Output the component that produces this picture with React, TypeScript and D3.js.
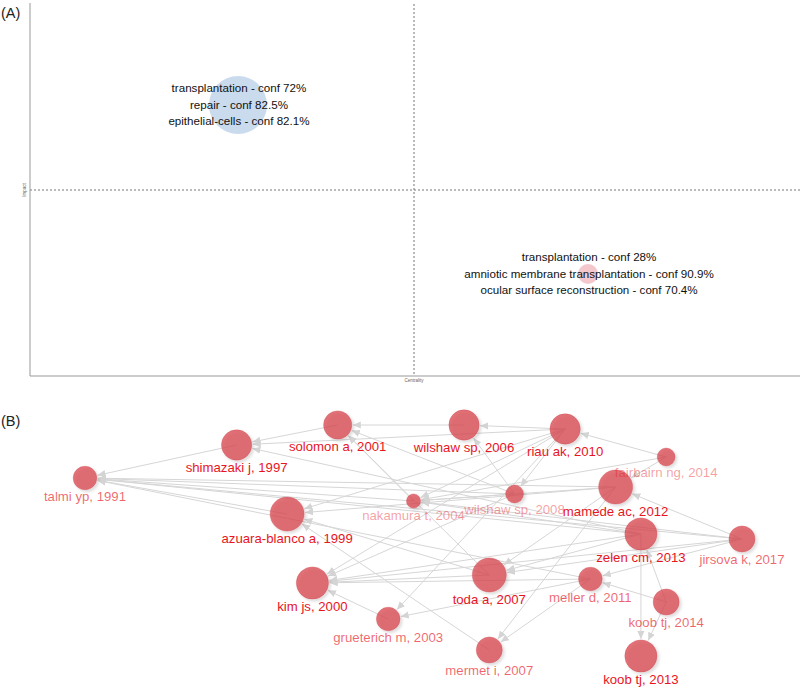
import React from "react";
import * as d3 from "d3";

// ---------- (A) thematic map data ----------
const clusterCentrality = [0.2708, 0.7266];
const clusterImpact = [0.7285, 0.2742];
const clusterFreq = [84, 10];
const clusterColors = ["#c6d9ec", "#f3c4c9"];
const clusterLabels = [
  ["transplantation - conf 72%", "repair - conf 82.5%", "epithelial-cells - conf 82.1%"],
  ["transplantation - conf 28%", "amniotic membrane transplantation - conf 90.9%", "ocular surface reconstruction - conf 70.4%"],
];

// ---------- (B) historiograph data ----------
const nodeNames = [
  "talmi yp, 1991", "shimazaki j, 1997", "azuara-blanco a, 1999", "kim js, 2000", "solomon a, 2001",
  "grueterich m, 2003", "nakamura t, 2004", "wilshaw sp, 2006", "toda a, 2007", "mermet i, 2007",
  "wilshaw sp, 2008", "riau ak, 2010", "meller d, 2011", "mamede ac, 2012", "zelen cm, 2013",
  "koob tj, 2013", "fairbairn ng, 2014", "koob tj, 2014", "jirsova k, 2017",
];
const nodeYears = [1991, 1997, 1999, 2000, 2001, 2003, 2004, 2006, 2007, 2007, 2008, 2010, 2011, 2012, 2013, 2013, 2014, 2014, 2017];
const nodeLayoutY = [4.78, 4.45, 5.14, 5.83, 4.25, 6.19, 5.01, 4.25, 5.75, 6.5, 4.94, 4.29, 5.79, 4.87, 5.34, 6.56, 4.57, 6.02, 5.39];
const nodeLCS = [14, 23, 29, 26, 20, 14, 5, 23, 29, 17, 8, 23, 14, 29, 26, 26, 8, 17, 17];
const edgeList: [number, number][] = [
  [1, 0], [4, 1], [6, 0], [6, 4], [7, 4], [11, 7], [11, 1], [11, 10], [11, 6], [11, 5],
  [16, 11], [16, 6], [16, 13], [13, 0], [11, 2], [18, 13], [18, 0], [18, 8], [18, 12], [18, 3],
  [14, 8], [14, 3], [14, 15], [17, 15], [17, 12], [17, 14], [12, 3], [12, 5], [12, 9], [8, 3],
  [8, 4], [9, 2], [5, 3], [10, 3], [10, 7], [13, 8], [13, 9], [14, 0], [14, 6], [14, 1],
  [10, 4], [10, 6], [10, 0], [13, 6], [8, 2], [2, 0], [11, 3], [12, 0], [18, 6], [13, 2],
];

const FONT = "'Liberation Sans', Arial, Helvetica, sans-serif";

export default function App() {
  // Panel A scales
  const ax = d3.scaleLinear().domain([0, 1]).range([30, 798]);
  const ay = d3.scaleLinear().domain([0, 1]).range([376, 4]);
  const ar = d3.scaleSqrt().domain([0, 84]).range([0, 29]);

  // Panel B scales
  const bx = d3.scaleLinear().domain([1991, 2017]).range([85, 742]);
  const by = d3.scaleLinear().domain([4, 7]).range([400, 700]);
  const br = d3.scaleSqrt().domain([0, 29]).range([0, 17]);
  const labelOpacity = d3.scaleThreshold<number, number>().domain([11, 20]).range([0.42, 0.66, 1]);

  const nodes = nodeNames.map((name, i) => ({
    name,
    x: bx(nodeYears[i]),
    y: by(nodeLayoutY[i]),
    r: br(nodeLCS[i]),
    lo: labelOpacity(nodeLCS[i]),
  }));

  const edges = edgeList.map(([s, t]) => {
    const a = nodes[s];
    const b = nodes[t];
    const dx = b.x - a.x;
    const dy = b.y - a.y;
    const len = Math.sqrt(dx * dx + dy * dy);
    const ux = dx / len;
    const uy = dy / len;
    return {
      x1: a.x,
      y1: a.y,
      x2: b.x - ux * (b.r + 1),
      y2: b.y - uy * (b.r + 1),
    };
  });

  return (
    <div style={{ position: "absolute", left: 0, top: 0, width: 800, height: 687 }}>
      <svg width={800} height={687} style={{ display: "block", background: "#fff" }} fontFamily={FONT}>
        <defs>
          <marker id="arr" viewBox="0 -5 10 10" refX={10} refY={0} markerWidth={8} markerHeight={8} markerUnits="userSpaceOnUse" orient="auto">
            <path d="M0,-4.5L10,0L0,4.5Z" fill="#d4d4d4" />
          </marker>
          <filter id="shadow" x="-50%" y="-50%" width="200%" height="200%">
            <feDropShadow dx={2} dy={2} stdDeviation={1.6} floodColor="#000" floodOpacity={0.18} />
          </filter>
        </defs>

        {/* ---------- Panel A ---------- */}
        <text x={1} y={18} fontSize={14.5} fill="#222">(A)</text>
        <line x1={ax(0.5)} x2={ax(0.5)} y1={ay(1)} y2={ay(0)} stroke="#777" strokeWidth={1} strokeDasharray="2,2" />
        <line x1={ax(0)} x2={800} y1={ay(0.5)} y2={ay(0.5)} stroke="#777" strokeWidth={1} strokeDasharray="2,2" />
        <line x1={ax(0)} x2={ax(0)} y1={3} y2={ay(0)} stroke="#999" strokeWidth={1} />
        <line x1={ax(0)} x2={800} y1={ay(0)} y2={ay(0)} stroke="#999" strokeWidth={1} />
        <text x={0} y={0} fontSize={4.5} fill="#666" textAnchor="middle" transform={`translate(25.5,${ay(0.5)}) rotate(-90)`}>Impact</text>
        <text x={ax(0.5)} y={382} fontSize={4.5} fill="#666" textAnchor="middle">Centrality</text>

        {clusterCentrality.map((c, i) => {
          const cx = ax(c);
          const cy = ay(clusterImpact[i]);
          return (
            <g key={"c" + i}>
              <circle cx={cx} cy={cy} r={ar(clusterFreq[i])} fill={clusterColors[i]} opacity={0.95} />
              {clusterLabels[i].map((t, j) => (
                <text key={j} x={cx + 1} y={cy + 4 + (j - 1) * 16.5} fontSize={11.6} fill="#111" textAnchor="middle">
                  {t}
                </text>
              ))}
            </g>
          );
        })}

        {/* ---------- Panel B ---------- */}
        <text x={1} y={426} fontSize={14.5} fill="#222">(B)</text>
        <g>
          {edges.map((e, i) => (
            <line key={"e" + i} x1={e.x1} y1={e.y1} x2={e.x2} y2={e.y2} stroke="#d6d6d6" strokeWidth={1} markerEnd="url(#arr)" />
          ))}
        </g>
        <g>
          {nodes.map((n, i) => (
            <circle key={"n" + i} cx={n.x} cy={n.y} r={n.r} fill="#d8474f" fillOpacity={0.76} stroke="#d04850" strokeOpacity={0.35} strokeWidth={1} filter="url(#shadow)" />
          ))}
        </g>
        <g>
          {nodes.map((n, i) => (
            <text key={"l" + i} x={n.x} y={n.y + n.r + 11.5} fontSize={13.2} fill="#e8141e" fillOpacity={n.lo} textAnchor="middle">
              {n.name}
            </text>
          ))}
        </g>
      </svg>
    </div>
  );
}
